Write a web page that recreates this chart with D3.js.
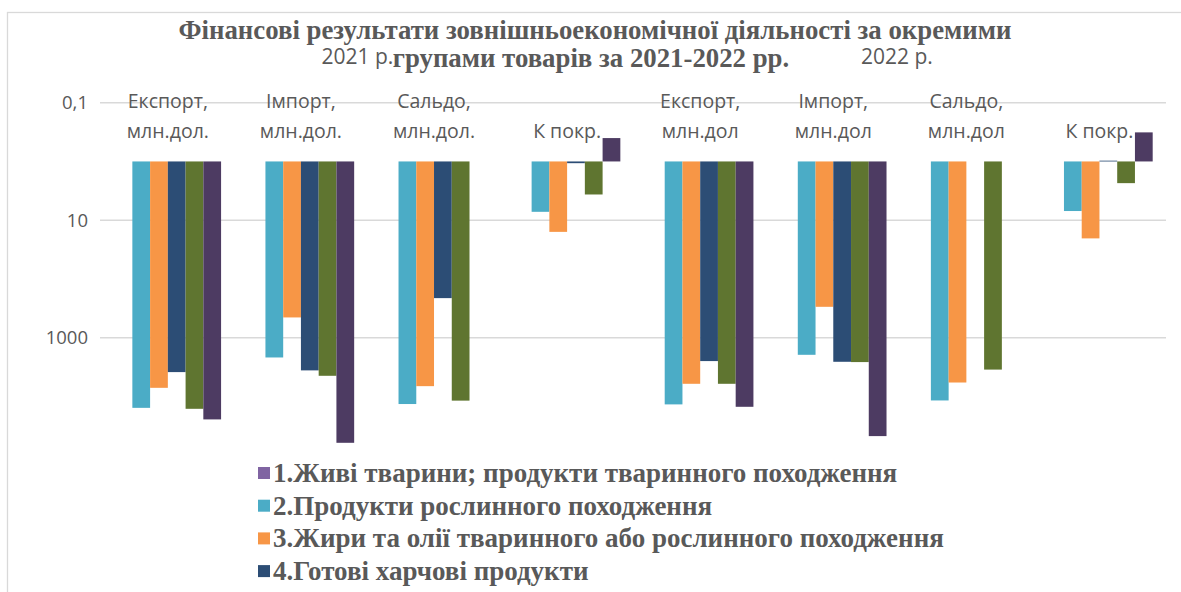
<!DOCTYPE html>
<html>
<head>
<meta charset="utf-8">
<script src="https://cdn.jsdelivr.net/npm/d3@7/dist/d3.min.js"></script>
<style>
  html, body { margin: 0; padding: 0; background: #fff; overflow: hidden; }
  svg { display: block; }
</style>
</head>
<body>
<svg id="chart" width="1181" height="592"></svg>
<script>
// ---------- data ----------
const categories = ["Експорт, млн.дол.", "Імпорт, млн.дол.", "Сальдо, млн.дол.", "К покр.",
                    "Експорт, млн.дол", "Імпорт, млн.дол", "Сальдо, млн.дол", "К покр."];
const years = ["2021 р.", "2022 р."];
const titleLines = ["Фінансові результати зовнішньоекономічної діяльності за окремими",
                    "групами товарів за 2021-2022 рр."];
const legendNames = ["1.Живі тварини; продукти тваринного походження",
                     "2.Продукти рослинного походження",
                     "3.Жири та олії тваринного або рослинного походження",
                     "4.Готові харчові продукти"];
const tickValues = [0.1, 10, 1000];
const tickLabels = ["0,1", "10", "1000"];

const series1 = [null, null, null, null, null, null, null, null];
const series2 = [15630, 2170, 13460, 7.2, 13650, 1955, 11700, 6.98];
const series3 = [7130, 452, 6680, 15.8, 6090, 298, 5790, 20.4];
const series4 = [3850, 3600, 212, 1.07, 2500, 2570, null, 0.97];
const series5 = [16230, 4450, 11780, 3.65, 6090, 2600, 3490, 2.34];
const series6 = [24590, 61500, null, 0.40, 15000, 47300, null, 0.32];
const allSeries = [series1, series2, series3, series4, series5, series6];
const colors = ["#8064A2", "#4BACC6", "#F79646", "#2C4D75", "#5F7530", "#4D3B62"];

// ---------- layout ----------
const svg = d3.select("#chart");
const textColor = "#595959";
const sansFont = "'Open Sans', 'Noto Sans', sans-serif";
const serifFont = "'Liberation Serif', 'Times New Roman', serif";
const plot = { left: 101.3, right: 1166, top: 102.7, bottom: 455.2 };

// chart frame (cropped at right and bottom)
svg.append("rect").attr("x", 7.5).attr("y", 12.5).attr("width", 1300).attr("height", 700)
  .attr("fill", "#fff").attr("stroke", "#d9d9d9").attr("stroke-width", 1.3);

const x0 = d3.scaleBand().domain(d3.range(categories.length))
  .range([plot.left, plot.right]).paddingInner(0).paddingOuter(0);
// 6 bars, gap width 150% -> bars occupy 6/7.5 of the band
const groupInner = x0.bandwidth() * 6 / 7.5;
const x1 = d3.scaleBand().domain(d3.range(allSeries.length)).range([0, groupInner]).padding(0);
const groupOffset = (x0.bandwidth() - groupInner) / 2;

const y = d3.scaleLog().domain([0.1, 100000]).range([plot.top, plot.bottom]);

// gridlines
svg.append("g").selectAll("line").data(tickValues).join("line")
  .attr("x1", 100).attr("x2", plot.right)
  .attr("y1", d => y(d)).attr("y2", d => y(d))
  .attr("stroke", "#d9d9d9").attr("stroke-width", 1.5);

// y axis labels
const yAxis = d3.axisLeft(y).tickValues(tickValues).tickSize(0)
  .tickFormat((d, i) => tickLabels[i]);
const yg = svg.append("g").attr("transform", "translate(96,0)").call(yAxis);
yg.select(".domain").remove();
yg.selectAll("text").attr("fill", textColor)
  .style("font-family", sansFont).style("font-size", "18.5px")
  .attr("x", -8);

// bars
const bars = [];
allSeries.forEach((s, si) => s.forEach((v, ci) => {
  if (v != null) bars.push({ si, ci, v });
}));
svg.append("g").selectAll("rect").data(bars).join("rect")
  .attr("x", d => x0(d.ci) + groupOffset + x1(d.si))
  .attr("width", x1.bandwidth())
  .attr("y", d => Math.min(y(1), y(d.v)))
  .attr("height", d => Math.max(0.8, Math.abs(y(d.v) - y(1))))
  .attr("fill", d => colors[d.si]);

// year labels (second level categories)
const yearCenters = [0, 1].map(k => (x0(k * 4) + x0(k * 4 + 3) + x0.bandwidth()) / 2);
const yearShift = [-10, -3];
svg.append("g").selectAll("text").data(years).join("text")
  .attr("x", (d, i) => yearCenters[i] + yearShift[i]).attr("y", 64)
  .attr("text-anchor", "middle").attr("fill", textColor)
  .style("font-family", sansFont).style("font-size", "21px")
  .text(d => d);

// category labels
const catG = svg.append("g").selectAll("text").data(categories).join("text")
  .attr("text-anchor", "middle").attr("fill", textColor)
  .style("font-family", sansFont).style("font-size", "19.5px");
catG.each(function (d, i) {
  const parts = d.split(", ");
  const t = d3.select(this);
  const cx = x0(i) + x0.bandwidth() / 2;
  if (parts.length === 1) {
    t.append("tspan").attr("x", cx).attr("y", 138).text(parts[0]);
  } else {
    t.append("tspan").attr("x", cx).attr("y", 108).text(parts[0] + ",");
    t.append("tspan").attr("x", cx).attr("y", 138).text(parts[1]);
  }
});

// title
svg.append("g").selectAll("text").data(titleLines).join("text")
  .attr("x", (d, i) => i === 0 ? 595 : 591)
  .attr("y", (d, i) => 39 + i * 27.5)
  .attr("text-anchor", "middle").attr("fill", textColor)
  .style("font-family", serifFont)
  .style("font-weight", "bold").style("font-size", "26.8px")
  .text(d => d);

// legend
const lg = svg.append("g").selectAll("g").data(legendNames).join("g")
  .attr("transform", (d, i) => `translate(258, ${473 + i * 32.7})`);
lg.append("rect").attr("x", 0).attr("y", -6).attr("width", 12).attr("height", 12)
  .attr("fill", (d, i) => colors[i]);
lg.append("text").attr("x", 15).attr("y", 9).attr("fill", textColor)
  .style("font-family", serifFont)
  .style("font-weight", "bold").style("font-size", "27px")
  .text(d => d);
</script>
</body>
</html>
